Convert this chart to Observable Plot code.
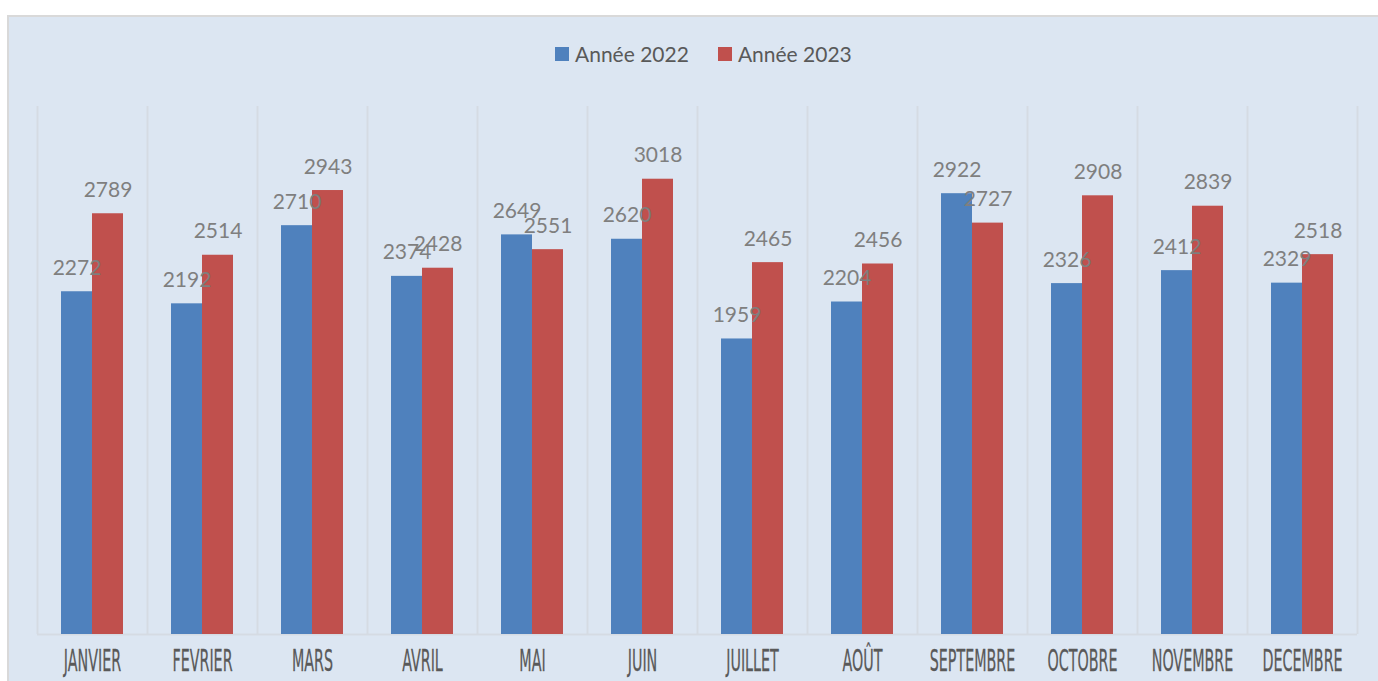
<!DOCTYPE html>
<html><head><meta charset="utf-8">
<script src="https://cdn.jsdelivr.net/npm/d3@7"></script>
<script src="https://cdn.jsdelivr.net/npm/@observablehq/plot@0.6"></script>
<style>
html,body{margin:0;padding:0;background:#fff;overflow:hidden;width:1378px;height:681px;}
#frame{position:absolute;left:7px;top:15px;width:1400px;height:700px;background:#dce6f2;border-left:2px solid #d9d9d9;border-top:2px solid #d9d9d9;box-sizing:border-box;}
#chart{position:absolute;left:0;top:0;}
#legend{position:absolute;top:41px;left:555px;display:flex;align-items:center;font-family:Lato,"Open Sans",sans-serif;font-size:21px;color:#595959;white-space:nowrap;}
#legend .sw{display:inline-block;width:14px;height:14px;margin-right:6px;}
#legend .item{display:flex;align-items:center;margin-right:29px;}
</style></head>
<body>
<div id="frame"></div>
<div id="chart"></div>
<div id="legend"></div>
<script>
const months = ["JANVIER","FEVRIER","MARS","AVRIL","MAI","JUIN","JUILLET","AOÛT","SEPTEMBRE","OCTOBRE","NOVEMBRE","DECEMBRE"];
const values2022 = [2272,2192,2710,2374,2649,2620,1959,2204,2922,2326,2412,2329];
const values2023 = [2789,2514,2943,2428,2551,3018,2465,2456,2727,2908,2839,2518];
const seriesNames = ["Année 2022","Année 2023"];
const seriesColors = ["#4f81bd","#c0504d"];

const rows2022 = months.map((m,i)=>({month:m, value:values2022[i]}));
const rows2023 = months.map((m,i)=>({month:m, value:values2023[i]}));

const labelFont = "Lato, 'Open Sans', sans-serif";
const plot = Plot.plot({
  width: 1378,
  height: 681,
  marginLeft: 37,
  marginRight: 21,
  marginTop: 106,
  marginBottom: 47,
  style: {background: "transparent", overflow: "visible"},
  x: {type: "band", domain: months, paddingInner: 0, paddingOuter: 0, axis: null},
  y: {domain: [0, 3500], axis: null},
  marks: [
    Plot.ruleX(months, {x: d => d, dx: -55, stroke: "#d5dbe3", strokeWidth: 2}),
    Plot.ruleX(months.slice(-1), {x: d => d, dx: 55, stroke: "#d5dbe3", strokeWidth: 2}),
    Plot.ruleY([0], {stroke: "#d5dbe3", strokeWidth: 2}),
    Plot.barY(rows2022, {x: "month", y: "value", fill: seriesColors[0], insetLeft: 24, insetRight: 55}),
    Plot.barY(rows2023, {x: "month", y: "value", fill: seriesColors[1], insetLeft: 55, insetRight: 24}),
    Plot.text(rows2022, {x: "month", y: "value", text: d => String(d.value), dx: -15.5, dy: -17, lineAnchor: "bottom", fill: "#7f7f7f", fontSize: 21, fontFamily: labelFont}),
    Plot.text(rows2023, {x: "month", y: "value", text: d => String(d.value), dx: 15.5, dy: -17, lineAnchor: "bottom", fill: "#7f7f7f", fontSize: 21, fontFamily: labelFont}),
    Plot.text(months, {x: d => d, y: 0, text: d => d, dy: 36, lineAnchor: "bottom", fill: "#595959", fontSize: 30, fontFamily: "'DejaVu Sans Condensed', 'DejaVu Sans', sans-serif", stroke: "#595959", strokeWidth: 0.25, className: "mlabels"})
  ]
});
document.getElementById("chart").appendChild(plot);

// condense month labels horizontally
const sx = 0.53;
plot.querySelectorAll("g.mlabels text").forEach(el => {
  const t = el.getAttribute("transform");
  if (t) el.setAttribute("transform", t + ` scale(${sx},1)`);
  else {
    const x = el.getAttribute("x") || 0, y = el.getAttribute("y") || 0;
    el.removeAttribute("x"); el.removeAttribute("y");
    el.setAttribute("transform", `translate(${x},${y}) scale(${sx},1)`);
  }
});

const legend = document.getElementById("legend");
seriesNames.forEach((n,i)=>{
  const item = document.createElement("div");
  item.className = "item";
  const sw = document.createElement("span");
  sw.className = "sw"; sw.style.background = seriesColors[i];
  const tx = document.createElement("span"); tx.textContent = n;
  item.appendChild(sw); item.appendChild(tx);
  legend.appendChild(item);
});
</script>
</body></html>
